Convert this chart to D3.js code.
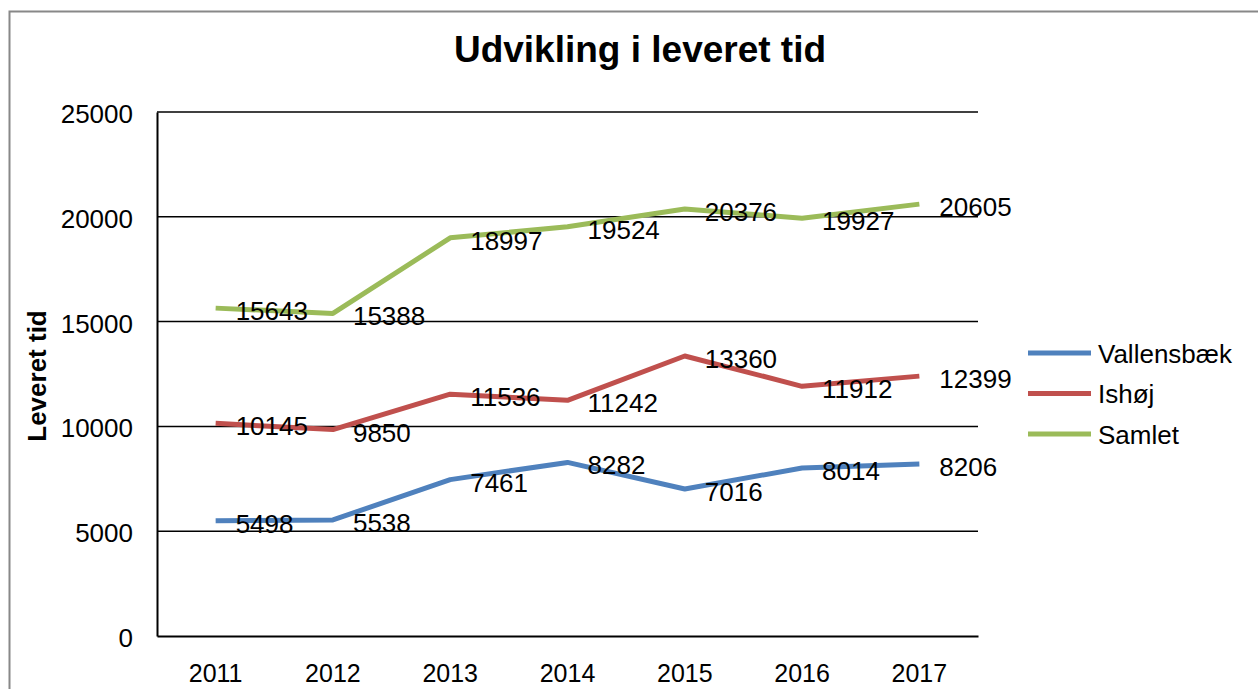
<!DOCTYPE html>
<html>
<head>
<meta charset="utf-8">
<script src="https://cdn.jsdelivr.net/npm/d3@7"></script>
<style>
  body { margin: 0; background: #fff; }
  text { font-family: "Liberation Sans", Arial, sans-serif; fill: #000; }
</style>
</head>
<body>
<script>
var fullWidth = 1258;
var fullHeight = 689;

var years = ["2011", "2012", "2013", "2014", "2015", "2016", "2017"];
var vallensbaek = [5498, 5538, 7461, 8282, 7016, 8014, 8206];
var ishoej = [10145, 9850, 11536, 11242, 13360, 11912, 12399];
var samlet = [15643, 15388, 18997, 19524, 20376, 19927, 20605];
var yTicks = [0, 5000, 10000, 15000, 20000, 25000];

var series = [
    {name: "Vallensbæk", values: vallensbaek, color: "#4F81BD"},
    {name: "Ishøj", values: ishoej, color: "#C0504D"},
    {name: "Samlet", values: samlet, color: "#9BBB59"}
];

var plot = {left: 157, right: 978, top: 112, bottom: 636};

var svg = d3.select("body")
            .append("svg")
            .attr("width", fullWidth)
            .attr("height", fullHeight);

// outer chart border
svg.append("rect")
   .attr("x", 9.5)
   .attr("y", 11.5)
   .attr("width", 1300)
   .attr("height", 800)
   .style("fill", "none")
   .style("stroke", "#888")
   .style("stroke-width", 2);

var xScale = d3.scaleBand()
               .domain(years)
               .range([plot.left, plot.right]);

var yScale = d3.scaleLinear()
               .domain([0, 25000])
               .range([plot.bottom, plot.top]);

var xPos = function(i) { return xScale(years[i]) + xScale.bandwidth() / 2; };

// gridlines
svg.append("g")
   .selectAll("line")
   .data(yTicks.slice(1))
   .enter()
   .append("line")
   .attr("x1", plot.left)
   .attr("x2", plot.right)
   .attr("y1", function(d) { return yScale(d); })
   .attr("y2", function(d) { return yScale(d); })
   .style("stroke", "#000")
   .style("stroke-width", 1.5);

// y axis
var yAxis = d3.axisLeft(yScale).tickValues(yTicks).tickSize(0).tickPadding(24)
              .tickFormat(d3.format("d"));
var gy = svg.append("g")
   .attr("transform", "translate(" + plot.left + ",0)")
   .call(yAxis);
gy.select(".domain").style("stroke", "#000").style("stroke-width", 2);
gy.selectAll("text").style("font-size", "26px").attr("dy", "0.4em");

// x axis
var xAxis = d3.axisBottom(xScale).tickSize(0).tickPadding(28);
var gx = svg.append("g")
   .attr("transform", "translate(0," + plot.bottom + ")")
   .call(xAxis);
gx.select(".domain").style("stroke", "#000").style("stroke-width", 2);
gx.selectAll("text").style("font-size", "25px");

// lines
var line = d3.line()
             .x(function(d, i) { return xPos(i); })
             .y(function(d) { return yScale(d); });

series.forEach(function(s) {
    svg.append("path")
       .datum(s.values)
       .attr("d", line)
       .style("fill", "none")
       .style("stroke", s.color)
       .style("stroke-width", 5)
       .style("stroke-linejoin", "round");
});

// data labels
series.forEach(function(s) {
    svg.append("g")
       .selectAll("text")
       .data(s.values)
       .enter()
       .append("text")
       .attr("x", function(d, i) { return xPos(i) + 20; })
       .attr("y", function(d) { return yScale(d); })
       .attr("dy", "0.46em")
       .style("font-size", "26px")
       .text(function(d) { return d; });
});

// title
svg.append("text")
   .attr("x", 640)
   .attr("y", 62)
   .style("text-anchor", "middle")
   .style("font-size", "37px")
   .style("font-weight", "bold")
   .text("Udvikling i leveret tid");

// y axis name
svg.append("text")
   .attr("transform", "rotate(-90)")
   .attr("x", -376)
   .attr("y", 46)
   .style("text-anchor", "middle")
   .style("font-size", "26px")
   .style("font-weight", "bold")
   .text("Leveret tid");

// legend
var legend = svg.selectAll(".legend")
                .data(series)
                .enter()
                .append("g")
                .attr("class", "legend")
                .attr("transform", function(d, i) {
                    return "translate(1028," + (353 + i * 40.5) + ")";
                });

legend.append("line")
      .attr("x1", 0)
      .attr("x2", 63)
      .style("stroke", function(d) { return d.color; })
      .style("stroke-width", 5);

legend.append("text")
      .attr("x", 70)
      .attr("dy", "0.38em")
      .style("font-size", "26px")
      .text(function(d) { return d.name; });
</script>
</body>
</html>
